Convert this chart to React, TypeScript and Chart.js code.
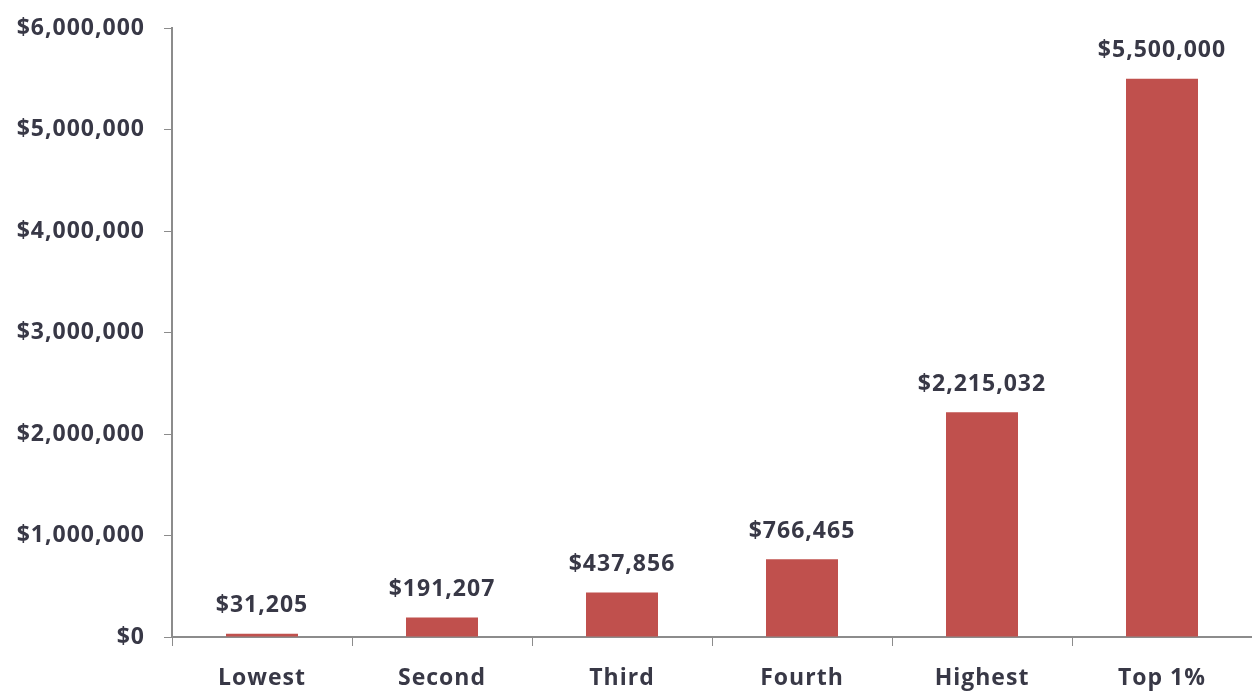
import React, { useEffect, useRef } from "react";
import { Chart, registerables } from "chart.js";

Chart.register(...registerables);

const categories = ["Lowest", "Second", "Third", "Fourth", "Highest", "Top 1%"];
const values = [31205, 191207, 437856, 766465, 2215032, 5500000];

const fmt = (v: number) => "$" + Math.round(v).toLocaleString("en-US");

const FONT = "'Open Sans', 'DejaVu Sans', sans-serif";
const TEXT = "#383846";
const SIZE = 23;

const spacing = {
  id: "spacing",
  beforeDraw(chart: any) {
    (chart.ctx as any).letterSpacing = "1px";
  },
};

const valueLabels = {
  id: "valueLabels",
  afterDatasetsDraw(chart: any) {
    const ctx = chart.ctx;
    const meta = chart.getDatasetMeta(0);
    ctx.save();
    (ctx as any).letterSpacing = "1px";
    ctx.font = `bold ${SIZE}px ${FONT}`;
    ctx.fillStyle = TEXT;
    ctx.textAlign = "center";
    ctx.textBaseline = "middle";
    meta.data.forEach((bar: any, i: number) => {
      ctx.fillText(fmt(values[i]), bar.x, bar.y - 28);
    });
    ctx.restore();
  },
};

export default function App() {
  const ref = useRef<HTMLCanvasElement>(null);
  useEffect(() => {
    document.body.style.margin = "0";
    const chart = new Chart(ref.current!, {
      type: "bar",
      data: {
        labels: categories,
        datasets: [
          {
            data: values,
            backgroundColor: "#C0504D",
            barPercentage: 0.4,
            categoryPercentage: 1,
          },
        ],
      },
      options: {
        animation: false,
        responsive: false,
        layout: { padding: { top: 28, left: 0, right: 0, bottom: 0 } },
        plugins: { legend: { display: false }, tooltip: { enabled: false } },
        scales: {
          x: {
            grid: {
              display: true,
              drawOnChartArea: false,
              drawTicks: true,
              tickLength: 9,
              offset: true,
              color: "#8c8c8c",
            },
            border: { color: "#8c8c8c", width: 2 },
            ticks: {
              color: TEXT,
              font: { family: FONT, size: SIZE, weight: "bold" as any },
              padding: 19,
            },
            afterFit(scale: any) {
              scale.height = 55;
              scale.paddingLeft = 0;
              scale.paddingRight = 0;
            },
          },
          y: {
            min: 0,
            max: 6000000,
            ticks: {
              stepSize: 1000000,
              color: TEXT,
              font: { family: FONT, size: SIZE, weight: "bold" as any },
              padding: 19,
              callback: (v: any) => fmt(Number(v)),
            },
            grid: {
              display: true,
              drawOnChartArea: false,
              drawTicks: true,
              tickLength: 8,
              color: "#8c8c8c",
            },
            border: { color: "#8c8c8c", width: 2 },
            afterFit(scale: any) {
              scale.width = 172;
              scale.paddingTop = 0;
              scale.paddingBottom = 0;
            },
          },
        },
      },
      plugins: [spacing, valueLabels],
    });
    return () => chart.destroy();
  }, []);
  return (
    <div style={{ position: "relative", width: 1252, height: 692 }}>
      <canvas ref={ref} width={1252} height={692} />
    </div>
  );
}
